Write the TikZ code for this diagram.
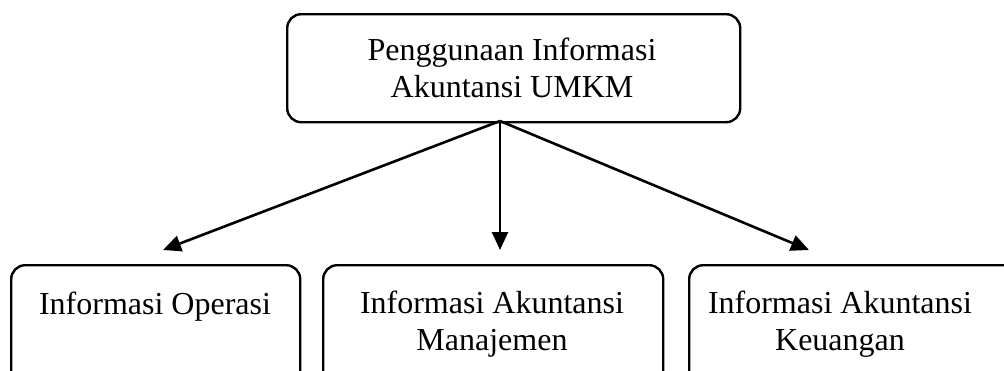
\documentclass[tikz,border=0pt]{standalone}
\usepackage{fontspec}
\setmainfont{Liberation Serif}
\usetikzlibrary{arrows.meta}
\begin{document}
\begin{tikzpicture}[x=1pt,y=-1pt,
  boxshape/.style={draw=black, line width=2.4pt, rounded corners=14pt, inner sep=0pt, anchor=north west},
  lbl/.style={font=\fontsize{32}{37}\selectfont, align=center, anchor=base, inner sep=0pt},
  arr/.style={line width=2.6pt, -{Triangle[length=18pt,width=16pt]}}]
\clip (0,0) rectangle (1004,370);
\fill[white] (0,0) rectangle (1004,370);
% top box
\node[boxshape, minimum width=453pt, minimum height=108pt] (top) at (286,13) {};
\node[lbl] (toptxt) at (512,97) {Penggunaan Informasi\\Akuntansi UMKM};
% bottom boxes
\node[boxshape, minimum width=289pt, minimum height=130pt] (op) at (10,264) {};
\node[lbl] (optxt) at (155,314) {Informasi Operasi};
\node[boxshape, minimum width=340pt, minimum height=130pt] (man) at (322,264) {};
\node[lbl] (mantxt) at (492,350) {Informasi Akuntansi\\Manajemen};
\node[boxshape, minimum width=340pt, minimum height=130pt] (keu) at (688,264) {};
\node[lbl] (keutxt) at (840,350) {Informasi Akuntansi\\Keuangan};
% arrows
\coordinate (o) at (500,121);
\coordinate (t1) at (163,250);
\coordinate (t2) at (500,250);
\coordinate (t3) at (809,250);
\draw[arr] (o) -- (t1);
\draw[arr] (o) -- (t2);
\draw[arr] (o) -- (t3);
\end{tikzpicture}
\end{document}
